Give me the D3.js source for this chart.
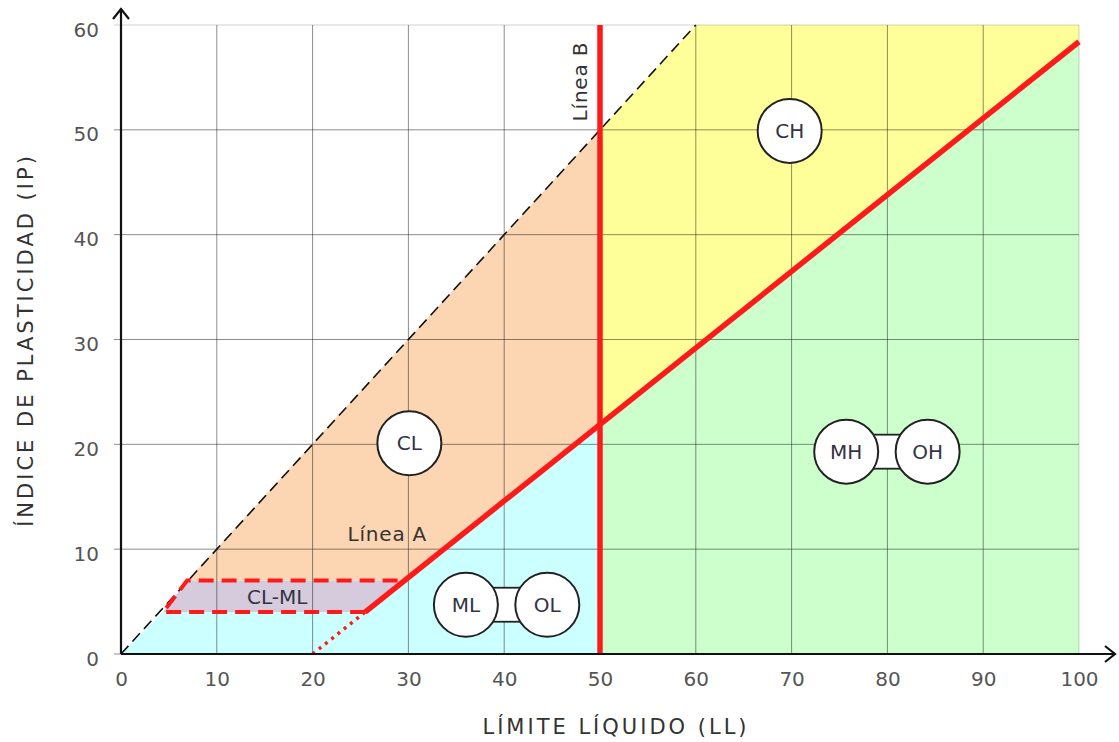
<!DOCTYPE html>
<html lang="es">
<head>
    <meta charset="UTF-8">
    <title>Carta de plasticidad</title>
    <script src="https://d3js.org/d3.v7.min.js"></script>
    <style>
        body { margin: 0; background-color: #fff; }
        text { font-family: "DejaVu Sans", Verdana, sans-serif; }
        .tick text { fill: #555; font-size: 20px; }
        .axis-title { fill: #333; font-size: 21px; letter-spacing: 3px; }
        .zone-label { fill: #334; font-size: 20px; }
        .line-label { fill: #333; font-size: 20px; letter-spacing: 0.8px; }
    </style>
</head>
<body>
    <div id="chart"></div>
    <script type="text/javascript">
        // ticks
        const llTicks = [0, 10, 20, 30, 40, 50, 60, 70, 80, 90, 100];
        const ipTicks = [0, 10, 20, 30, 40, 50, 60];

        // zones [LL, IP]
        const zoneMLOL = [[0, 0], [4.4, 4], [25.48, 4], [50, 21.9], [50, 0]];
        const zoneCLML = [[4.4, 4], [6.9, 7], [29.59, 7], [25.48, 4]];
        const zoneCL = [[6.9, 7], [50, 50], [50, 21.9], [29.59, 7]];
        const zoneCH = [[50, 50], [60, 60], [100, 60], [100, 58.4], [50, 21.9]];
        const zoneMHOH = [[50, 0], [50, 21.9], [100, 58.4], [100, 0]];

        // lines
        const lineA = [[25.48, 4], [100, 58.4]];
        const lineAExt = [[20, 0], [25.48, 4]];
        const lineB = [[50, 0], [50, 60]];
        const lineUpper = [[0, 0], [60, 60]];
        const clmlBorder = [[25.48, 4], [4.4, 4], [6.9, 7], [29.59, 7]];

        // labels
        const singleLabels = [
            {text: "CL", ll: 30.1, ip: 20.1},
            {text: "CH", ll: 69.8, ip: 49.9}
        ];
        const pairLabels = [
            {a: "ML", b: "OL", ll1: 36.0, ll2: 44.5, ip: 4.7},
            {a: "MH", b: "OH", ll1: 75.7, ll2: 84.2, ip: 19.3}
        ];

        const margin = {top: 25, right: 40, bottom: 88, left: 121},
              width = 958,
              height = 629;

        const x = d3.scaleLinear().domain([0, 100]).range([0, width]);
        const y = d3.scaleLinear().domain([0, 60]).range([height, 0]);

        const svg = d3.select("#chart").append("svg")
            .attr("width", 1119)
            .attr("height", 742)
            .append("g")
            .attr("transform", "translate(" + margin.left + "," + margin.top + ")");

        const path = d3.line().x(d => x(d[0])).y(d => y(d[1]));
        const poly = pts => path(pts) + "Z";

        // fills
        [[zoneMLOL, "#ccffff"], [zoneCL, "#fcd5b2"], [zoneCLML, "#d6cbdc"],
         [zoneCH, "#ffff99"], [zoneMHOH, "#ccffcc"]].forEach(z => {
            svg.append("path").attr("d", poly(z[0])).attr("fill", z[1]);
        });

        // grid
        svg.selectAll(".vgrid")
            .data(llTicks)
            .join("line")
            .attr("class", "vgrid")
            .attr("x1", d => x(d)).attr("x2", d => x(d))
            .attr("y1", 0).attr("y2", height)
            .attr("stroke", d => d === 100 ? "rgba(0,0,0,0.18)" : "rgba(0,0,0,0.45)")
            .attr("stroke-width", 1);

        svg.selectAll(".hgrid")
            .data(ipTicks)
            .join("line")
            .attr("class", "hgrid")
            .attr("x1", -7).attr("x2", width)
            .attr("y1", d => y(d)).attr("y2", d => y(d))
            .attr("stroke", d => d === 60 ? "rgba(0,0,0,0.18)" : "rgba(0,0,0,0.45)")
            .attr("stroke-width", 1);

        // upper boundary (dashed)
        svg.append("path").attr("d", path(lineUpper))
            .attr("fill", "none").attr("stroke", "#111")
            .attr("stroke-width", 1.6).attr("stroke-dasharray", "11,6");

        // CL-ML border
        svg.append("path").attr("d", path(clmlBorder))
            .attr("fill", "none").attr("stroke", "#ff1a1a")
            .attr("stroke-width", 4).attr("stroke-dasharray", "15,8");

        // line A extension (dotted)
        svg.append("path").attr("d", path(lineAExt))
            .attr("fill", "none").attr("stroke", "#ff1a1a")
            .attr("stroke-width", 3.5).attr("stroke-dasharray", "3,5");

        // line A and B
        svg.append("path").attr("d", path(lineA))
            .attr("fill", "none").attr("stroke", "#ff1a1a").attr("stroke-width", 5.5);
        svg.append("path").attr("d", path(lineB))
            .attr("fill", "none").attr("stroke", "#ff1a1a").attr("stroke-width", 5.5);

        // axes labels
        const xAxis = svg.append("g")
            .attr("transform", "translate(0," + height + ")")
            .call(d3.axisBottom(x).tickValues(llTicks).tickSize(0).tickPadding(18));
        xAxis.select(".domain").remove();

        const yAxis = svg.append("g")
            .call(d3.axisLeft(y).tickValues(ipTicks).tickSize(0).tickPadding(22));
        yAxis.select(".domain").remove();
        yAxis.selectAll(".tick text").attr("dy", "0.55em");

        // axis lines with arrows
        svg.append("line").attr("x1", 0).attr("x2", 0).attr("y1", height).attr("y2", -16)
            .attr("stroke", "#111").attr("stroke-width", 2.2);
        svg.append("path").attr("d", "M-8,-6L0,-16L8,-6")
            .attr("fill", "none").attr("stroke", "#111").attr("stroke-width", 2.2);
        svg.append("line").attr("x1", 0).attr("x2", width + 36).attr("y1", height).attr("y2", height)
            .attr("stroke", "#111").attr("stroke-width", 2.2);
        svg.append("path").attr("d", `M${width + 26},${height - 8}L${width + 36},${height}L${width + 26},${height + 8}`)
            .attr("fill", "none").attr("stroke", "#111").attr("stroke-width", 2.2);

        // zone labels
        const r = 32;
        singleLabels.forEach(d => {
            svg.append("circle").attr("cx", x(d.ll)).attr("cy", y(d.ip)).attr("r", r)
                .attr("fill", "#fff").attr("stroke", "#222").attr("stroke-width", 2);
            svg.append("text").attr("class", "zone-label")
                .attr("x", x(d.ll)).attr("y", y(d.ip)).attr("dy", "0.36em")
                .attr("text-anchor", "middle").text(d.text);
        });
        pairLabels.forEach(d => {
            svg.append("rect")
                .attr("x", x(d.ll1)).attr("y", y(d.ip) - 17)
                .attr("width", x(d.ll2) - x(d.ll1)).attr("height", 34)
                .attr("fill", "#fff").attr("stroke", "#222").attr("stroke-width", 1.8);
            [[d.a, d.ll1], [d.b, d.ll2]].forEach(p => {
                svg.append("circle").attr("cx", x(p[1])).attr("cy", y(d.ip)).attr("r", r)
                    .attr("fill", "#fff").attr("stroke", "#222").attr("stroke-width", 2);
                svg.append("text").attr("class", "zone-label")
                    .attr("x", x(p[1])).attr("y", y(d.ip)).attr("dy", "0.36em")
                    .attr("text-anchor", "middle").text(p[0]);
            });
        });

        // CL-ML label
        svg.append("text").attr("class", "zone-label")
            .attr("x", x(16.3)).attr("y", y(5.5)).attr("dy", "0.36em")
            .attr("text-anchor", "middle").text("CL-ML");

        // line labels
        svg.append("text").attr("class", "line-label")
            .attr("x", x(27.8)).attr("y", y(11.5)).attr("dy", "0.36em")
            .attr("text-anchor", "middle").text("Línea A");
        svg.append("text").attr("class", "line-label")
            .attr("transform", "translate(" + (x(50) - 13) + "," + y(54.6) + ") rotate(-90)")
            .attr("text-anchor", "middle").text("Línea B");

        // axis titles
        svg.append("text").attr("class", "axis-title")
            .attr("x", 495).attr("y", height + 80)
            .attr("text-anchor", "middle").text("LÍMITE LÍQUIDO (LL)");
        svg.append("text").attr("class", "axis-title")
            .attr("transform", "translate(-88," + 315 + ") rotate(-90)")
            .attr("text-anchor", "middle").text("ÍNDICE DE PLASTICIDAD (IP)");
    </script>
</body>
</html>
